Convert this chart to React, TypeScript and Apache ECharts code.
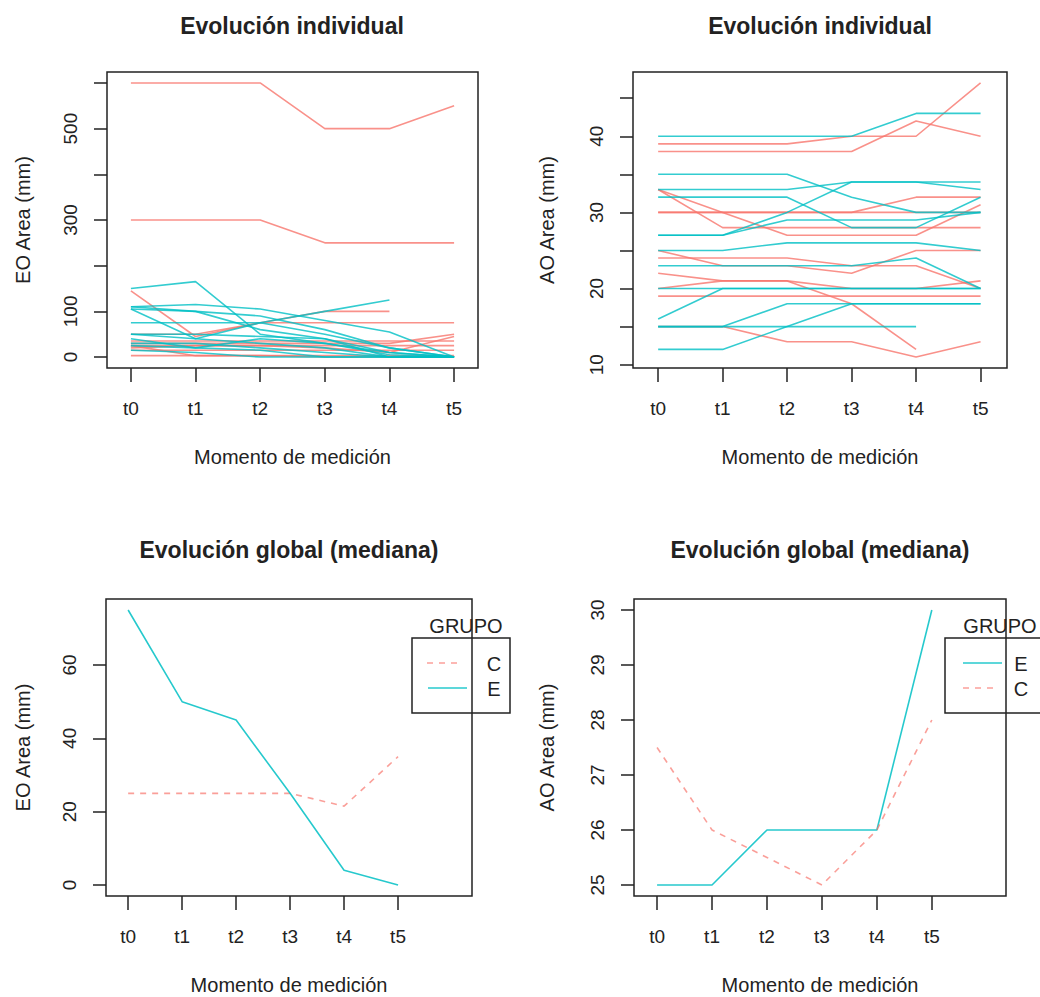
import React, { useEffect, useRef } from "react";
import * as echarts from "echarts";

// ---------- data ----------
const timeLabels = ["t0", "t1", "t2", "t3", "t4", "t5"];
const timeIndex = [0, 1, 2, 3, 4, 5];

// EO Area individual trajectories, group C (red)
const eoC: (number | null)[][] = [
  [600, 600, 600, 500, 500, 550],
  [300, 300, 300, 250, 250, 250],
  [145, 45, 75, 100, 100, null],
  [50, 50, 75, 75, 75, 75],
  [30, 30, 30, 30, 30, 50],
  [25, 25, 25, 20, 10, 45],
  [20, 25, 25, 25, 25, 25],
  [35, 35, 35, 35, 35, 35],
  [3, 3, 3, 3, 3, 3],
  [25, 3, 3, 0, 0, 0],
  [15, 15, 15, 15, 15, 15],
];
// EO Area individual trajectories, group E (teal)
const eoE: (number | null)[][] = [
  [150, 165, 50, 30, 5, 0],
  [110, 115, 105, 80, 55, 0],
  [105, 100, 90, 60, 20, 0],
  [105, 40, 75, 100, 125, null],
  [110, 100, 60, 40, 10, 0],
  [75, 75, 75, 50, 20, 0],
  [50, 50, 45, 40, 0, 0],
  [50, 40, 30, 20, 0, 0],
  [30, 30, 20, 10, 0, 0],
  [25, 20, 15, 0, 0, 0],
  [15, 10, 0, 0, 0, 0],
  [40, 20, 40, 30, 10, 0],
];
// AO Area individual trajectories, group C (red)
const aoC: (number | null)[][] = [
  [39, 39, 39, 40, 40, 47],
  [38, 38, 38, 38, 42, 40],
  [33, 28, 28, 28, 28, 28],
  [33, 30, 27, 27, 27, 31],
  [30, 30, 30, 30, 32, 32],
  [30, 30, 30, 30, 30, 30],
  [25, 23, 23, 22, 25, 25],
  [24, 24, 24, 23, 23, 20],
  [22, 21, 21, 18, 12, null],
  [20, 21, 21, 20, 20, 21],
  [19, 19, 19, 19, 19, 19],
  [15, 15, 13, 13, 11, 13],
];
// AO Area individual trajectories, group E (teal)
const aoE: (number | null)[][] = [
  [40, 40, 40, 40, 43, 43],
  [35, 35, 35, 32, 30, 30],
  [33, 33, 33, 34, 34, 33],
  [32, 32, 32, 28, 28, 32],
  [27, 27, 30, 34, 34, 34],
  [27, 27, 29, 29, 29, 30],
  [25, 25, 26, 26, 26, 25],
  [23, 23, 23, 23, 24, 20],
  [20, 20, 20, 20, 20, 20],
  [16, 20, 20, 20, 20, 20],
  [15, 15, 18, 18, 18, 18],
  [15, 15, 15, 15, 15, null],
  [12, 12, 15, 18, 18, 18],
];

// medians
const eoMedianE = [75, 50, 45, 25, 4, 0];
const eoMedianC = [25, 25, 25, 25, 21.5, 35];
const aoMedianE = [25, 25, 26, 26, 26, 30];
const aoMedianC = [27.5, 26, 25.5, 25, 26, 28];

// ticks
const eoTicks = [0, 100, 200, 300, 400, 500, 600];
const eoLabels = [0, 100, 300, 500];
const aoTicks = [10, 15, 20, 25, 30, 35, 40, 45];
const aoLabels = [10, 20, 30, 40];
const eoMedTicks = [0, 20, 40, 60];
const aoMedTicks = [25, 26, 27, 28, 29, 30];

const titleTop = "Evolución individual";
const titleBottom = "Evolución global (mediana)";
const xName = "Momento de medición";
const eoName = "EO Area (mm)";
const aoName = "AO Area (mm)";
const legendTitle = "GRUPO";
const groupC = "C";
const groupE = "E";

// ---------- style ----------
const INK = "#222222";
const RED = "#F8766D";
const TEAL = "#00BFC4";
const FONT = "'Liberation Sans', Arial, Helvetica, sans-serif";

const toPts = (vals: (number | null)[]) =>
  vals
    .map((v, i) => (v === null ? null : [timeIndex[i], v]))
    .filter((p) => p !== null);

function xAxis(gridIndex: number, min: number, max: number) {
  return {
    type: "value",
    gridIndex,
    min,
    max,
    axisLine: { show: false, onZero: false },
    splitLine: { show: false },
    axisTick: {
      show: true,
      length: 14,
      customValues: timeIndex,
      lineStyle: { color: INK, width: 1.5 },
    },
    axisLabel: {
      customValues: timeIndex,
      formatter: (v: number) => timeLabels[Math.round(v)],
      margin: 31,
      fontSize: 19,
      color: INK,
      fontFamily: FONT,
    },
    name: xName,
    nameLocation: "middle",
    nameGap: 79,
    nameTextStyle: { fontSize: 20, color: INK, fontFamily: FONT },
  };
}

function yAxis(
  gridIndex: number,
  min: number,
  max: number,
  ticks: number[],
  labels: number[],
  name: string,
  nameGap: number
) {
  return {
    type: "value",
    gridIndex,
    min,
    max,
    axisLine: { show: false, onZero: false },
    splitLine: { show: false },
    axisTick: {
      show: true,
      length: 13,
      customValues: ticks,
      lineStyle: { color: INK, width: 1.5 },
    },
    axisLabel: {
      customValues: labels,
      rotate: 90,
      margin: 27,
      fontSize: 19,
      color: INK,
      fontFamily: FONT,
    },
    name,
    nameLocation: "middle",
    nameRotate: 90,
    nameGap,
    nameTextStyle: { fontSize: 20, color: INK, fontFamily: FONT },
  };
}

function indivSeries(rows: (number | null)[][], color: string, idx: number) {
  return rows.map((r) => ({
    type: "line",
    xAxisIndex: idx,
    yAxisIndex: idx,
    data: toPts(r),
    symbol: "none",
    silent: true,
    lineStyle: { color, width: 1.6, opacity: 0.8 },
  }));
}

function medSeries(vals: number[], color: string, idx: number, dashed: boolean) {
  return {
    type: "line",
    xAxisIndex: idx,
    yAxisIndex: idx,
    data: toPts(vals),
    symbol: "none",
    silent: true,
    lineStyle: {
      color,
      width: 1.6,
      opacity: dashed ? 0.7 : 0.85,
      type: dashed ? [6, 6] : "solid",
    },
  };
}

function txt(text: string, x: number, y: number, size: number, bold = false) {
  return {
    type: "text",
    x,
    y,
    silent: true,
    style: {
      text,
      fill: INK,
      fontSize: size,
      fontWeight: bold ? "bold" : "normal",
      fontFamily: FONT,
      align: "center",
      verticalAlign: "middle",
    },
  };
}

function legLine(x1: number, x2: number, y: number, color: string, dashed: boolean) {
  return {
    type: "line",
    silent: true,
    shape: { x1, y1: y, x2, y2: y },
    style: {
      stroke: color,
      lineWidth: 1.6,
      opacity: dashed ? 0.7 : 0.85,
      lineDash: dashed ? [6, 6] : null,
    },
  };
}

function legBox(x: number, y: number, w: number, h: number) {
  return {
    type: "rect",
    silent: true,
    shape: { x, y, width: w, height: h },
    style: { fill: "none", stroke: INK, lineWidth: 1.5 },
  };
}

export default function App() {
  const ref = useRef<HTMLDivElement>(null);

  useEffect(() => {
    if (!ref.current) return;
    const chart = echarts.init(ref.current, null, { renderer: "svg" });

    const gridBase = {
      show: true,
      borderColor: INK,
      borderWidth: 1.5,
      backgroundColor: "transparent",
      containLabel: false,
      outerBoundsMode: "none",
    };

    const option: any = {
      animation: false,
      backgroundColor: "#ffffff",
      textStyle: { fontFamily: FONT },
      grid: [
        { ...gridBase, left: 107, top: 72, width: 371, height: 296 },
        { ...gridBase, left: 633, top: 72, width: 374, height: 296 },
        { ...gridBase, left: 106, top: 599, width: 366, height: 297 },
        { ...gridBase, left: 634, top: 599, width: 372, height: 297 },
      ],
      xAxis: [
        xAxis(0, -0.37, 5.37),
        xAxis(1, -0.39, 5.41),
        xAxis(2, -0.41, 6.37),
        xAxis(3, -0.42, 6.35),
      ],
      yAxis: [
        yAxis(0, -24, 624, eoTicks, eoLabels, eoName, 74),
        yAxis(1, 9.56, 48.44, aoTicks, aoLabels, aoName, 76),
        yAxis(2, -3, 78, eoMedTicks, eoMedTicks, eoName, 73),
        yAxis(3, 24.8, 30.2, aoMedTicks, aoMedTicks, aoName, 77),
      ],
      series: [
        ...indivSeries(eoC, RED, 0),
        ...indivSeries(eoE, TEAL, 0),
        ...indivSeries(aoC, RED, 1),
        ...indivSeries(aoE, TEAL, 1),
        medSeries(eoMedianC, RED, 2, true),
        medSeries(eoMedianE, TEAL, 2, false),
        medSeries(aoMedianE, TEAL, 3, false),
        medSeries(aoMedianC, RED, 3, true),
      ],
      graphic: [
        txt(titleTop, 292, 26, 23, true),
        txt(titleTop, 820, 26, 23, true),
        txt(titleBottom, 289, 550, 23, true),
        txt(titleBottom, 820, 550, 23, true),
        // legend bottom-left
        txt(legendTitle, 466, 626, 20),
        legBox(412, 638, 98, 75),
        legLine(427, 462, 663, RED, true),
        txt(groupC, 494, 664, 20),
        legLine(428, 467, 688, TEAL, false),
        txt(groupE, 494, 689, 20),
        // legend bottom-right
        txt(legendTitle, 1000, 626, 20),
        legBox(945, 638, 120, 75),
        legLine(963, 1002, 663, TEAL, false),
        txt(groupE, 1021, 664, 20),
        legLine(963, 997, 688, RED, true),
        txt(groupC, 1021, 689, 20),
      ],
    };

    chart.setOption(option);
    return () => chart.dispose();
  }, []);

  return (
    <div
      ref={ref}
      style={{ position: "absolute", left: 0, top: 0, width: 1040, height: 997 }}
    />
  );
}
